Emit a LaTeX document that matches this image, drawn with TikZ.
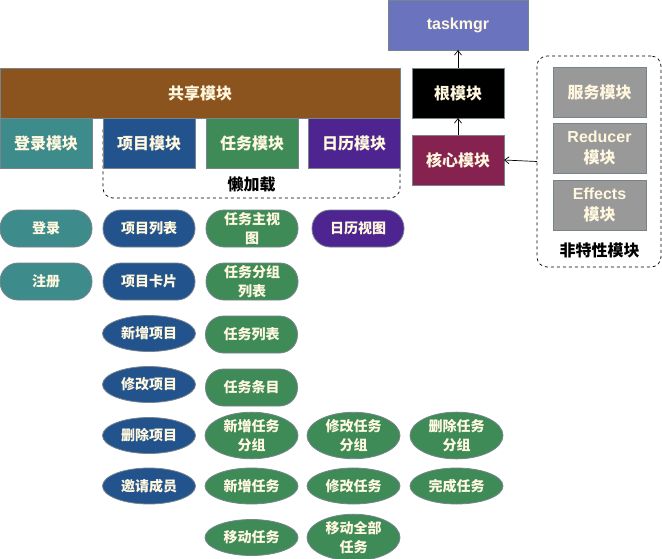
\documentclass[tikz,border=0pt]{standalone}
\usepackage{fontspec}
\setmainfont{Liberation Sans}
\newfontfamily\cjk{Noto Sans CJK SC}
\usetikzlibrary{shapes.geometric,arrows.meta}
\definecolor{cTask}{RGB}{106,116,190}
\definecolor{cBrown}{RGB}{139,84,30}
\definecolor{cTeal}{RGB}{62,139,139}
\definecolor{cNavy}{RGB}{34,83,141}
\definecolor{cGreen}{RGB}{62,139,88}
\definecolor{cPurple}{RGB}{78,36,145}
\definecolor{cMaroon}{RGB}{133,34,79}
\definecolor{cGrey}{RGB}{153,153,153}
\definecolor{cBorder}{RGB}{120,132,140}
\definecolor{cText}{RGB}{255,248,222}
\begin{document}
\begin{tikzpicture}[x=1pt,y=-1pt,
  base/.style={draw=cBorder, line width=0.8pt, text=cText, inner sep=0pt, outer sep=0pt, align=center},
  big/.style={font=\cjk\bfseries\fontsize{16}{21.5}\selectfont},
  small/.style={font=\cjk\bfseries\fontsize{14}{19.5}\selectfont},
  hdr/.style={base, big, rectangle, minimum width=92pt, minimum height=50pt},
  pill/.style={base, small, rectangle, rounded corners=18pt, minimum width=92pt, minimum height=37pt},
  ell/.style={base, small, ellipse, minimum width=93pt, minimum height=36pt},
  dbox/.style={draw=black, dashed, line width=0.7pt, rounded corners=10pt, inner sep=0pt, outer sep=0pt},
  lbl/.style={font=\cjk\bfseries\fontsize{16}{19}\selectfont, text=black, inner sep=0pt},
  arr/.style={-{Straight Barb[length=4.5pt,width=7pt]}, line width=0.7pt, black}
]
\fill[white] (0,0) rectangle (662,558);
\useasboundingbox (0,0) rectangle (662,558);

% dashed groups
\node[dbox, minimum width=297pt, minimum height=80pt] (lazy) at (251.5,158) {};
\node[lbl] (lazylbl) at (251.5,184) {懒加载};
\node[dbox, minimum width=124pt, minimum height=211pt] (nf) at (599,161.5) {};
\node[lbl] (nflbl) at (599.5,250) {非特性模块};

% top right
\node[hdr, fill=cTask, minimum width=140pt, font=\bfseries\fontsize{16}{19}\selectfont] (taskmgr) at (458,25) {taskmgr};
\node[hdr, fill=black] (root) at (458,93) {根模块};
\node[hdr, fill=cMaroon] (core) at (458,160) {核心模块};

% non-feature modules
\node[hdr, fill=cGrey, minimum width=93pt] (svc) at (599.5,92) {服务模块};
\node[hdr, fill=cGrey, minimum width=93pt] (red) at (599.5,148) {{\fontspec{Liberation Sans}Reducer}\\模块};
\node[hdr, fill=cGrey, minimum width=93pt] (eff) at (599.5,205) {{\fontspec{Liberation Sans}Effects}\\模块};

% shared and feature modules
\node[hdr, fill=cBrown, minimum width=400pt] (shared) at (200,93) {共享模块};
\node[hdr, fill=cTeal] (login) at (46,143) {登录模块};
\node[hdr, fill=cNavy] (proj) at (149,143) {项目模块};
\node[hdr, fill=cGreen] (task) at (252,143) {任务模块};
\node[hdr, fill=cPurple] (cal) at (354,143) {日历模块};

% row 2
\node[pill, fill=cTeal] (l1) at (46,228.5) {登录};
\node[pill, fill=cNavy] (p1) at (149,228.5) {项目列表};
\node[pill, fill=cGreen] (t1) at (252,228.5) {任务主视\\图};
\node[pill, fill=cPurple] (c1) at (358,228.5) {日历视图};
% row 3
\node[pill, fill=cTeal] (l2) at (46,281.5) {注册};
\node[pill, fill=cNavy] (p2) at (149,281.5) {项目卡片};
\node[pill, fill=cGreen] (t2) at (252,281.5) {任务分组\\列表};
% row 4
\node[ell, fill=cNavy] (p3) at (149,333.5) {新增项目};
\node[pill, fill=cGreen] (t3) at (251.5,334.5) {任务列表};
% row 5
\node[ell, fill=cNavy] (p4) at (149,384.5) {修改项目};
\node[pill, fill=cGreen] (t4) at (251.5,387.5) {任务条目};
% row 6
\node[ell, fill=cNavy] (p5) at (149,435.5) {删除项目};
\node[ell, fill=cGreen] (t5) at (251.5,435.5) {新增任务\\分组};
\node[ell, fill=cGreen] (t6) at (353.5,435.5) {修改任务\\分组};
\node[ell, fill=cGreen] (t7) at (456.5,435.5) {删除任务\\分组};
% row 7
\node[ell, fill=cNavy] (p6) at (149,486) {邀请成员};
\node[ell, fill=cGreen] (t8) at (251.5,486) {新增任务};
\node[ell, fill=cGreen] (t9) at (353.5,486) {修改任务};
\node[ell, fill=cGreen] (t10) at (456.5,486) {完成任务};
% row 8
\node[ell, fill=cGreen] (t11) at (251.5,537.5) {移动任务};
\node[ell, fill=cGreen] (t12) at (353.5,537.5) {移动全部\\任务};

% arrows
\draw[arr] (root.north) -- (taskmgr.south);
\draw[arr] (core.north) -- (root.south);
\draw[arr] (nf.west) -- (core.east);
\end{tikzpicture}
\end{document}
